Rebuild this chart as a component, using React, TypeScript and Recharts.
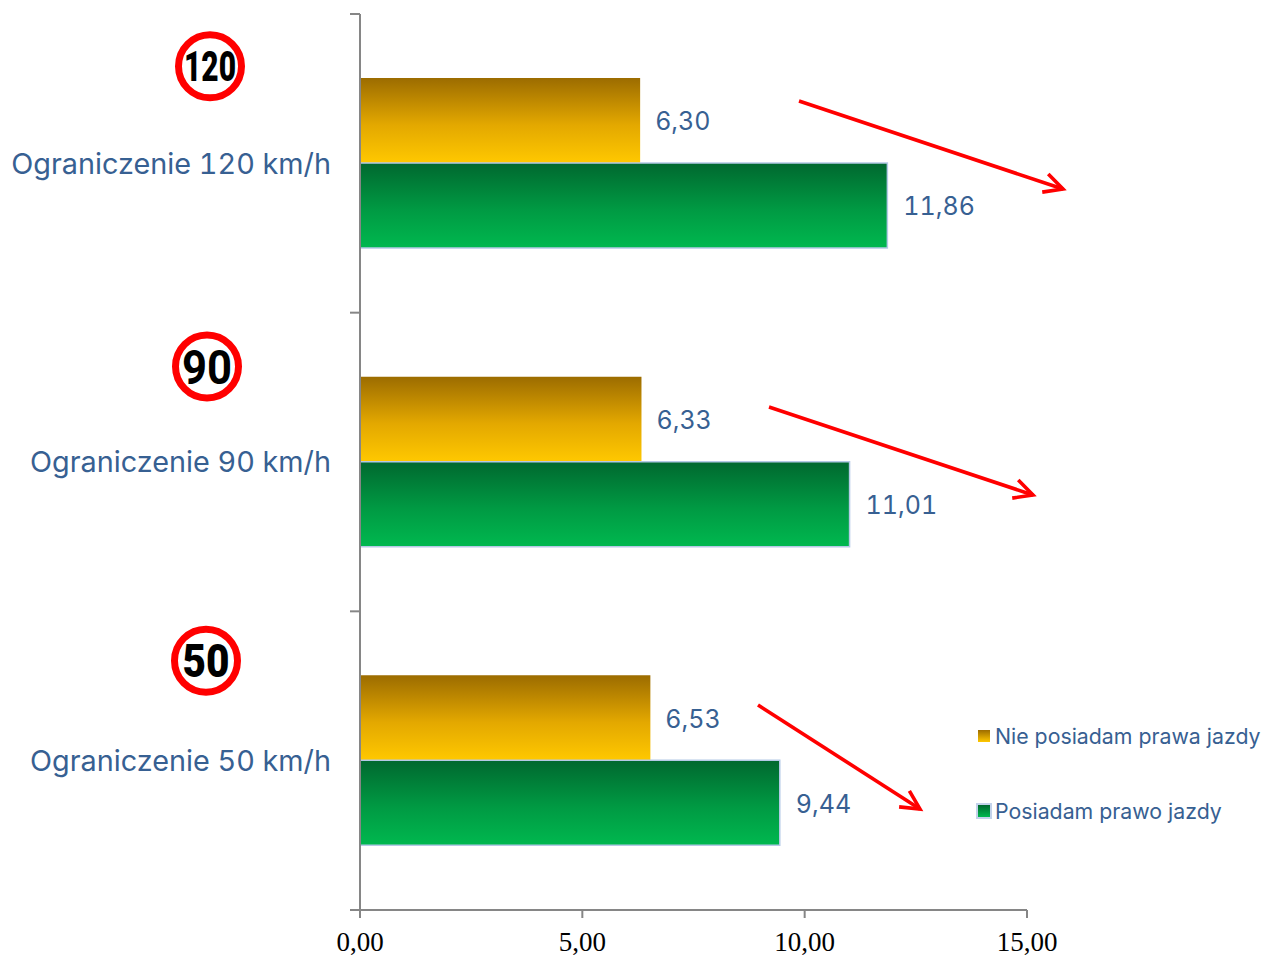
import * as React from "react"
import { BarChart, Bar, XAxis, YAxis, Legend, LabelList } from "recharts"

const categories = ["Ograniczenie 120 km/h", "Ograniczenie 90 km/h", "Ograniczenie 50 km/h"]
const signLabels = ["120", "90", "50"]
const withoutLicence = [6.3, 6.33, 6.53]
const withLicence = [11.86, 11.01, 9.44]
const valueTicks = [0, 5, 10, 15]

const data = categories.map((name, i) => ({
  name,
  none: withoutLicence[i],
  licence: withLicence[i],
}))

const AXIS = "#868686"
const TEXT = "#376092"
const SANS = "Inter, 'Liberation Sans', sans-serif"

const WIDTH = 1263
const HEIGHT = 956
const MARGIN_TOP = 14
const X_AXIS_HEIGHT = 46
const AXIS_X = 360
const BAND = (HEIGHT - MARGIN_TOP - X_AXIS_HEIGHT) / categories.length

const fmt = (v: number) => v.toFixed(2).replace(".", ",")

// sign circles sit above each category label, slightly off a common column
const SIGNS = [
  { dx: -120, dy: -97, size: 42, stretch: 52, weight: 900 },
  { dx: -123, dy: -95.5, size: 48, stretch: 50, weight: 700 },
  { dx: -124, dy: -100, size: 46, stretch: 47, weight: 900 },
]

function CategoryTick({ y, payload, index }: any) {
  const s = SIGNS[index]
  if (!s) return null
  const cx = 330 + s.dx
  const cy = y + s.dy
  // tick marks go between the bands, which a band axis can't do by itself
  const marks = [y - BAND / 2]
  if (index === categories.length - 1) marks.push(y + BAND / 2)
  return (
    <g>
      {marks.map((m) => (
        <line key={m} x1={AXIS_X - 10} x2={AXIS_X} y1={m} y2={m} stroke={AXIS} strokeWidth={2} />
      ))}
      <circle cx={cx} cy={cy} r={31.5} fill="#fff" stroke="#ff0000" strokeWidth={7} />
      <text
        x={cx}
        y={cy}
        dy="0.36em"
        textAnchor="middle"
        fontFamily="Roboto, sans-serif"
        fontWeight={s.weight}
        fontSize={s.size}
        textLength={s.stretch}
        lengthAdjust="spacingAndGlyphs"
        fill="#000"
      >
        {signLabels[index]}
      </text>
      <text
        x={331}
        y={y}
        dy="0.36em"
        textAnchor="end"
        fontFamily={SANS}
        fontSize={28.8}
        fill={TEXT}
        style={{ fontVariantNumeric: "tabular-nums" }}
      >
        {payload.value}
      </text>
    </g>
  )
}

function Arrow({ x1, y1, x2, y2 }: { x1: number; y1: number; x2: number; y2: number }) {
  const a = Math.atan2(y2 - y1, x2 - x1)
  const barb = (t: number) => `${x2 - 21 * Math.cos(a + t)},${y2 - 21 * Math.sin(a + t)}`
  return (
    <g fill="none" stroke="#ff0000" strokeWidth={3.6}>
      <line x1={x1} y1={y1} x2={x2} y2={y2} />
      <polyline points={`${barb(0.47)} ${x2},${y2} ${barb(-0.47)}`} />
    </g>
  )
}

function ChartLegend() {
  const row = (label: string, fill: string, border: string, top: number) => (
    <div
      style={{
        position: "absolute",
        left: 0,
        top,
        display: "flex",
        alignItems: "center",
        whiteSpace: "nowrap",
        color: TEXT,
        fontFamily: SANS,
        fontSize: 21.3,
      }}
    >
      <span style={{ width: 12, height: 12, marginRight: 5, background: fill, outline: border }} />
      {label}
    </div>
  )
  return (
    <div style={{ position: "relative" }}>
      {row("Nie posiadam prawa jazdy", "linear-gradient(#9c6c00, #ffc800)", "none", 0)}
      {row("Posiadam prawo jazdy", "linear-gradient(#00682f, #00b84f)", "2px solid #c3d2ea", 75)}
    </div>
  )
}

const valueLabel = { fontFamily: SANS, fontSize: 25, fill: TEXT, fontVariantNumeric: "tabular-nums" }

export default function App() {
  return (
    <div style={{ position: "absolute", left: 0, top: 0 }}>
      <BarChart
        layout="vertical"
        width={WIDTH}
        height={HEIGHT}
        data={data}
        barSize={85}
        barGap={0}
        margin={{ top: MARGIN_TOP, right: 236, bottom: 0, left: 0 }}
      >
        <defs>
          <linearGradient id="amber" x1="0" y1="0" x2="0" y2="1">
            <stop offset="0" stopColor="#9c6c00" />
            <stop offset="0.55" stopColor="#e3a800" />
            <stop offset="1" stopColor="#ffc800" />
          </linearGradient>
          <linearGradient id="green" x1="0" y1="0" x2="0" y2="1">
            <stop offset="0" stopColor="#00682f" />
            <stop offset="0.55" stopColor="#009a43" />
            <stop offset="1" stopColor="#00b84f" />
          </linearGradient>
        </defs>
        <XAxis
          type="number"
          domain={[0, 15]}
          ticks={valueTicks}
          tickFormatter={fmt}
          height={X_AXIS_HEIGHT}
          stroke={AXIS}
          strokeWidth={2}
          tickSize={8}
          tickMargin={14}
          tick={{ fontFamily: "'Liberation Serif', serif", fontSize: 27, fill: "#000" }}
        />
        <YAxis
          type="category"
          dataKey="name"
          width={AXIS_X}
          stroke={AXIS}
          strokeWidth={2}
          tickLine={false}
          interval={0}
          tick={<CategoryTick />}
        />
        <Bar dataKey="none" name="Nie posiadam prawa jazdy" fill="url(#amber)" isAnimationActive={false}>
          <LabelList dataKey="none" position="right" offset={15} dy={1} formatter={fmt} style={valueLabel} />
        </Bar>
        <Bar
          dataKey="licence"
          name="Posiadam prawo jazdy"
          fill="url(#green)"
          stroke="#b4c9e6"
          strokeWidth={1.5}
          isAnimationActive={false}
        >
          <LabelList dataKey="licence" position="right" offset={16} dy={1} formatter={fmt} style={valueLabel} />
        </Bar>
        <Legend
          layout="horizontal"
          align="center"
          verticalAlign="middle"
          content={<ChartLegend />}
          wrapperStyle={{ position: "absolute", left: 978, top: 723, width: 285, height: 110 }}
        />
        <Arrow x1={799} y1={101} x2={1063} y2={189} />
        <Arrow x1={769} y1={407} x2={1033} y2={495} />
        <Arrow x1={758} y1={705} x2={920} y2={809} />
      </BarChart>
    </div>
  )
}
